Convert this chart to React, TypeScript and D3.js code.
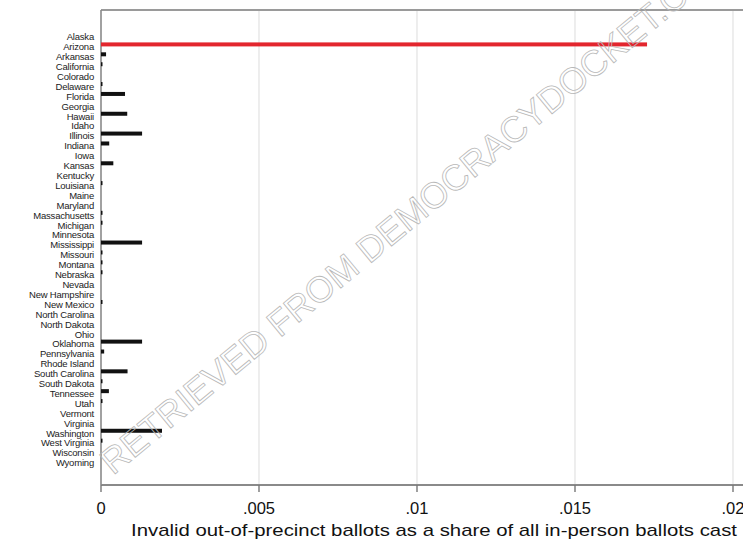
import React from "react";
import * as d3 from "d3";

const states = [
  "Alaska", "Arizona", "Arkansas", "California", "Colorado", "Delaware", "Florida", "Georgia",
  "Hawaii", "Idaho", "Illinois", "Indiana", "Iowa", "Kansas", "Kentucky", "Louisiana", "Maine",
  "Maryland", "Massachusetts", "Michigan", "Minnesota", "Mississippi", "Missouri", "Montana",
  "Nebraska", "Nevada", "New Hampshire", "New Mexico", "North Carolina", "North Dakota", "Ohio",
  "Oklahoma", "Pennsylvania", "Rhode Island", "South Carolina", "South Dakota", "Tennessee",
  "Utah", "Vermont", "Virginia", "Washington", "West Virginia", "Wisconsin", "Wyoming",
];

const shares = [
  0, 0.01728, 0.00016, 0.00002, 0, 0.00003, 0.00076, 0,
  0.00083, 0, 0.0013, 0.00026, 0, 0.00039, 0, 0.00001, 0,
  0, 0.00001, 0.00003, 0, 0.0013, 0.00001, 0.00004,
  0.00004, 0, 0, 0.00003, 0, 0, 0,
  0.0013, 0.0001, 0, 0.00084, 0.00004, 0.00025,
  0.00002, 0, 0, 0.00193, 0.00004, 0, 0,
];

const highlight = "Arizona";
const xTicks = [0, 0.005, 0.01, 0.015, 0.02];
const xTickLabels = ["0", ".005", ".01", ".015", ".02"];
const xTitle = "Invalid out-of-precinct ballots as a share of all in-person ballots cast";
const watermark = "RETRIEVED FROM DEMOCRACYDOCKET.COM";

export default function App() {
  const W = 743, H = 540;
  const left = 101, top = 10, bottom = 485;
  const x = d3.scaleLinear().domain([0, 0.02]).range([left, 733]);
  const y = d3.scalePoint<string>().domain(states).range([37, 463]);
  const font = "'Liberation Sans', Arial, Helvetica, sans-serif";

  return (
    <svg width={W} height={H} style={{ position: "absolute", left: 0, top: 0, background: "#fff" }}
      xmlns="http://www.w3.org/2000/svg">
      <rect x={0} y={0} width={W} height={H} fill="#fff" />
      {/* gridlines */}
      {xTicks.slice(1).map((t) => (
        <line key={t} x1={x(t)} x2={x(t)} y1={top} y2={bottom} stroke="#e2e2e2" strokeWidth={1.2} />
      ))}
      {/* frame */}
      <line x1={left} x2={W} y1={top} y2={top} stroke="#9a9a9a" strokeWidth={2} />
      <line x1={left} x2={left} y1={top} y2={bottom} stroke="#8a8a8a" strokeWidth={1.6} />
      <line x1={left} x2={W} y1={bottom} y2={bottom} stroke="#8a8a8a" strokeWidth={1.8} />
      {/* x ticks */}
      {xTicks.map((t, i) => (
        <g key={t}>
          <line x1={x(t)} x2={x(t)} y1={bottom} y2={bottom + 7} stroke="#777" strokeWidth={1.4} />
          <text x={x(t)} y={514} textAnchor="middle" fontFamily={font} fontSize={16.5} fill="#111">
            {xTickLabels[i]}
          </text>
        </g>
      ))}
      <text x={434} y={536} textAnchor="middle" fontFamily={font} fontSize={17} fill="#111"
        textLength={606} lengthAdjust="spacingAndGlyphs">
        {xTitle}
      </text>
      {/* state labels */}
      {states.map((s) => (
        <text key={s} x={94} y={(y(s) as number) + 3.3} textAnchor="end" fontFamily={font}
          fontSize={9.5} fill="#222" letterSpacing={-0.2}>
          {s}
        </text>
      ))}
      {/* bars */}
      {states.map((s, i) => {
        const v = shares[i];
        if (v <= 0) return null;
        const yy = (y(s) as number) - 2.5;
        const w = Math.max(x(v) - x(0), 1.5);
        const isH = s === highlight;
        return (
          <rect key={s} x={left} y={yy - 2} width={w} height={4}
            fill={isH ? "#e3262e" : "#111"} />
        );
      })}
      {/* watermark */}
      <text x={418} y={212} textAnchor="middle" dominantBaseline="middle" fontFamily={font}
        fontSize={36} fill="none" stroke="#b8b8b8" strokeWidth={0.8}
        transform="rotate(-39.5 418 212)">
        {watermark}
      </text>
    </svg>
  );
}
